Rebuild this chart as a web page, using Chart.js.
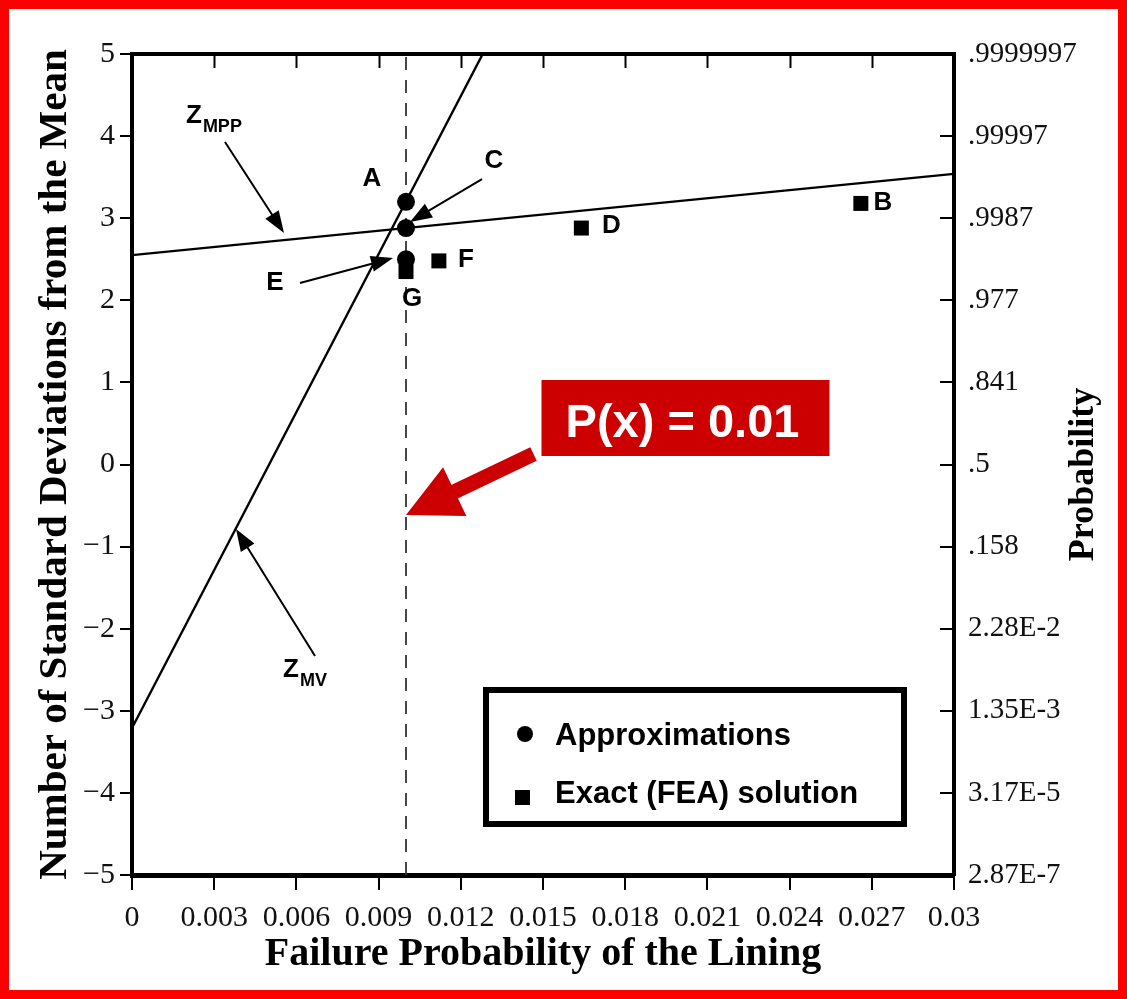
<!DOCTYPE html>
<html>
<head>
<meta charset="utf-8">
<title>Failure Probability of the Lining</title>
<script src="https://cdn.jsdelivr.net/npm/chart.js@4.4.0/dist/chart.umd.min.js"></script>
<style>
  html, body { margin: 0; padding: 0; background: #fff; }
  canvas { display: block; }
</style>
</head>
<body>
<canvas id="chart" width="1127" height="999"></canvas>
<script>
// ---- data ----
const pfRange = [0, 0.03];
const zRange = [-5, 5];
const xTickValues = [0, 0.003, 0.006, 0.009, 0.012, 0.015, 0.018, 0.021, 0.024, 0.027, 0.03];
const xTickLabels = ['0', '0.003', '0.006', '0.009', '0.012', '0.015', '0.018', '0.021', '0.024', '0.027', '0.03'];
const zTickValues = [-5, -4, -3, -2, -1, 0, 1, 2, 3, 4, 5];
const probabilityLabels = ['2.87E-7', '3.17E-5', '1.35E-3', '2.28E-2', '.158', '.5', '.841', '.977', '.9987', '.99997', '.9999997'];

// approximations (circles)
const approxNames = ['A', 'C', 'E'];
const approxPf = [0.01, 0.01, 0.01];
const approxZ = [3.2, 2.88, 2.5];

// exact FEA solutions (squares)
const exactNames = ['G', 'F', 'D', 'B'];
const exactPf = [0.01, 0.0112, 0.0164, 0.0266];
const exactZ = [2.35, 2.48, 2.88, 3.18];

// mean-value and most-probable-point lines
const zmvPf = [0, 0.0128];
const zmvZ = [-3.21, 5];
const zmppPf = [0, 0.03];
const zmppZ = [2.55, 3.54];

// target failure probability
const targetPf = 0.01;

const pts = (xs, ys) => xs.map((x, i) => ({ x: x, y: ys[i] }));

const serif = 'Liberation Serif, "Times New Roman", serif';
const sans = 'Liberation Sans, Arial, sans-serif';

// ---- annotation drawing helpers ----
function arrowLine(ctx, x1, y1, x2, y2, headLen, headHalf, width, color) {
  const dx = x2 - x1, dy = y2 - y1;
  const len = Math.hypot(dx, dy);
  const ux = dx / len, uy = dy / len;
  const bx = x2 - ux * headLen, by = y2 - uy * headLen;
  ctx.save();
  ctx.strokeStyle = color;
  ctx.fillStyle = color;
  ctx.lineWidth = width;
  ctx.lineCap = 'butt';
  ctx.beginPath();
  ctx.moveTo(x1, y1);
  ctx.lineTo(bx + ux * 2, by + uy * 2);
  ctx.stroke();
  ctx.beginPath();
  ctx.moveTo(x2, y2);
  ctx.lineTo(bx - uy * headHalf, by + ux * headHalf);
  ctx.lineTo(bx + uy * headHalf, by - ux * headHalf);
  ctx.closePath();
  ctx.fill();
  ctx.restore();
}

function subscriptLabel(ctx, x, y, main, sub) {
  ctx.save();
  ctx.fillStyle = '#000';
  ctx.textAlign = 'left';
  ctx.textBaseline = 'alphabetic';
  ctx.font = 'bold 26px ' + sans;
  ctx.fillText(main, x, y);
  const w = ctx.measureText(main).width;
  ctx.font = 'bold 18px ' + sans;
  ctx.fillText(sub, x + w + 1, y + 9);
  ctx.restore();
}

const notesPlugin = {
  id: 'notes',
  beforeDraw(chart) {
    const ctx = chart.ctx;
    ctx.save();
    ctx.fillStyle = '#fff';
    ctx.fillRect(0, 0, chart.width, chart.height);
    ctx.restore();
  },
  afterDraw(chart, args, opts) {
    const ctx = chart.ctx;
    const xs = chart.scales.x, ys = chart.scales.y;
    const ca = chart.chartArea;
    const px = v => xs.getPixelForValue(v);
    const py = v => ys.getPixelForValue(v);

    // inward tick marks on the top and right axes
    ctx.save();
    ctx.strokeStyle = '#000';
    ctx.lineWidth = 2;
    chart.scales.x2.ticks.forEach(t => {
      const x = Math.round(chart.scales.x2.getPixelForValue(t.value)) + 0.5;
      if (t.value <= pfRange[0] || t.value >= pfRange[1]) return;
      ctx.beginPath();
      ctx.moveTo(x, ca.top);
      ctx.lineTo(x, ca.top + 14);
      ctx.stroke();
    });
    chart.scales.y2.ticks.forEach(t => {
      const y = Math.round(chart.scales.y2.getPixelForValue(t.value));
      if (t.value <= zRange[0] || t.value >= zRange[1]) return;
      ctx.beginPath();
      ctx.moveTo(ca.right, y);
      ctx.lineTo(ca.right - 14, y);
      ctx.stroke();
    });
    ctx.restore();

    // letters beside the plotted points
    ctx.save();
    ctx.fillStyle = '#000';
    ctx.font = 'bold 26px ' + sans;
    ctx.textAlign = 'center';
    ctx.textBaseline = 'middle';
    chart.data.datasets.forEach((ds, di) => {
      if (!ds.names) return;
      const meta = chart.getDatasetMeta(di);
      ds.names.forEach((name, j) => {
        const off = opts.pointLabelOffsets[name];
        if (!off) return;
        const el = meta.data[j];
        ctx.fillText(name, el.x + off[0], el.y + off[1]);
      });
    });
    ctx.restore();

    // pointer arrows with their labels
    opts.pointers.forEach(p => {
      const tx = px(p.tail[0]), ty = py(p.tail[1]);
      const hx = px(p.tip[0]), hy = py(p.tip[1]);
      arrowLine(ctx, tx, ty, hx, hy, 22, 8, 2, '#000');
      if (p.sub) {
        subscriptLabel(ctx, tx + p.textOffset[0], ty + p.textOffset[1], p.text, p.sub);
      } else {
        ctx.save();
        ctx.fillStyle = '#000';
        ctx.font = 'bold 26px ' + sans;
        ctx.textAlign = 'center';
        ctx.textBaseline = 'middle';
        ctx.fillText(p.text, tx + p.textOffset[0], ty + p.textOffset[1]);
        ctx.restore();
      }
    });

    // red call-out for the target probability
    const co = opts.callout;
    const tipX = px(co.at[0]), tipY = py(co.at[1]);
    const red = '#cc0000';
    arrowLine(ctx, tipX + 127.5, tipY - 61, tipX, tipY, 54, 27, 15, red);
    const bx = tipX + 135.5, by = tipY - 135;
    ctx.save();
    ctx.fillStyle = red;
    ctx.fillRect(bx, by, 288, 76);
    ctx.fillStyle = '#fff';
    ctx.font = 'bold 47px ' + sans;
    ctx.textAlign = 'center';
    ctx.textBaseline = 'alphabetic';
    ctx.fillText(co.text, bx + 141, by + 57);
    ctx.restore();

    // legend box
    const dsA = chart.data.datasets[0], dsE = chart.data.datasets[1];
    const lx = ca.left + 354, ly = ca.top + 636;
    ctx.save();
    ctx.strokeStyle = '#000';
    ctx.lineWidth = 6;
    ctx.strokeRect(lx, ly, 418, 134);
    ctx.fillStyle = '#000';
    ctx.beginPath();
    ctx.arc(lx + 39, ly + 44, 8, 0, Math.PI * 2);
    ctx.fill();
    ctx.fillRect(lx + 29, ly + 100, 15, 15);
    ctx.font = 'bold 31px ' + sans;
    ctx.textAlign = 'left';
    ctx.textBaseline = 'alphabetic';
    ctx.fillText(dsA.label, lx + 69, ly + 55);
    ctx.fillText(dsE.label, lx + 69, ly + 113);
    ctx.restore();

    // right-hand axis title, reading upward
    ctx.save();
    ctx.translate(ca.right + 139, (ca.top + ca.bottom) / 2 + 10);
    ctx.rotate(-Math.PI / 2);
    ctx.fillStyle = '#000';
    ctx.font = 'bold 36px ' + serif;
    ctx.textAlign = 'center';
    ctx.textBaseline = 'alphabetic';
    ctx.fillText('Probability', 0, 0);
    ctx.restore();

    // red frame around the figure
    ctx.save();
    ctx.fillStyle = '#ff0000';
    const W = chart.width, H = chart.height, b = 9;
    ctx.fillRect(0, 0, W, b);
    ctx.fillRect(0, H - b, W, b);
    ctx.fillRect(0, 0, b, H);
    ctx.fillRect(W - b, 0, b, H);
    ctx.restore();
  }
};

const setXTicks = s => { s.ticks = xTickValues.map(v => ({ value: v })); };
const setZTicks = s => { s.ticks = zTickValues.map(v => ({ value: v })); };

new Chart(document.getElementById('chart'), {
  type: 'scatter',
  data: {
    datasets: [
      {
        label: 'Approximations',
        names: approxNames,
        data: pts(approxPf, approxZ),
        pointStyle: 'circle',
        pointRadius: 9,
        pointBackgroundColor: '#000',
        pointBorderColor: '#000',
        pointBorderWidth: 0,
        showLine: false
      },
      {
        label: 'Exact (FEA) solution',
        names: exactNames,
        data: pts(exactPf, exactZ),
        pointStyle: 'rect',
        pointRadius: 10.6,
        pointBackgroundColor: '#000',
        pointBorderColor: '#000',
        pointBorderWidth: 0,
        showLine: false
      },
      {
        label: 'Z_MV',
        data: pts(zmvPf, zmvZ),
        showLine: true,
        borderColor: '#000',
        borderWidth: 2.4,
        pointRadius: 0
      },
      {
        label: 'Z_MPP',
        data: pts(zmppPf, zmppZ),
        showLine: true,
        borderColor: '#000',
        borderWidth: 2.4,
        pointRadius: 0
      },
      {
        label: 'P(x) target',
        data: pts([targetPf, targetPf], zRange),
        showLine: true,
        borderColor: '#333',
        borderWidth: 1.8,
        borderDash: [13, 10],
        pointRadius: 0
      }
    ]
  },
  options: {
    responsive: false,
    animation: false,
    devicePixelRatio: 1,
    layout: { padding: 0 },
    events: [],
    plugins: {
      legend: { display: false },
      tooltip: { enabled: false },
      notes: {
        pointLabelOffsets: {
          A: [-34, -23],
          G: [6, 27],
          F: [27, -1],
          D: [30, -2],
          B: [22, -1]
        },
        pointers: [
          { text: 'Z', sub: 'MPP', tail: [0.003394, 3.928], tip: [0.005547, 2.82], textOffset: [-39, -19] },
          { text: 'Z', sub: 'MV', tail: [0.006679, -2.333], tip: [0.003796, -0.786], textOffset: [-32, 21] },
          { text: 'C', tail: [0.012774, 3.477], tip: [0.010146, 2.954], textOffset: [12, -18] },
          { text: 'E', tail: [0.006131, 2.211], tip: [0.009526, 2.515], textOffset: [-25, 0] }
        ],
        callout: { at: [targetPf, -0.615], text: 'P(x) = ' + targetPf }
      }
    },
    scales: {
      x: {
        type: 'linear',
        position: 'bottom',
        min: pfRange[0],
        max: pfRange[1],
        afterBuildTicks: setXTicks,
        afterFit: s => { s.height = 124; },
        ticks: {
          callback: (v, i) => xTickLabels[i],
          font: { family: serif, size: 30 },
          color: '#111',
          padding: 10,
          maxRotation: 0,
          autoSkip: false
        },
        grid: { display: true, drawOnChartArea: false, drawTicks: true, tickLength: 15, color: '#000', lineWidth: 2 },
        border: { display: true, color: '#000', width: 5 },
        title: {
          display: true,
          text: 'Failure Probability of the Lining',
          font: { family: serif, size: 40, weight: 'bold' },
          color: '#000',
          padding: { top: 0, bottom: 20 }
        }
      },
      x2: {
        type: 'linear',
        position: 'top',
        min: pfRange[0],
        max: pfRange[1],
        afterBuildTicks: setXTicks,
        afterFit: s => { s.height = 54; },
        ticks: { display: false },
        grid: { display: false, drawTicks: false },
        border: { display: true, color: '#000', width: 4 }
      },
      y: {
        type: 'linear',
        position: 'left',
        min: zRange[0],
        max: zRange[1],
        afterBuildTicks: setZTicks,
        afterFit: s => { s.width = 132; },
        ticks: {
          callback: v => (v < 0 ? '\u2212' + Math.abs(v) : String(v)),
          font: { family: serif, size: 30 },
          color: '#111',
          padding: 5,
          autoSkip: false
        },
        grid: { display: true, drawOnChartArea: false, drawTicks: true, tickLength: 12, color: '#000', lineWidth: 2 },
        border: { display: true, color: '#000', width: 4 },
        title: {
          display: true,
          text: 'Number of Standard Deviations from the Mean',
          font: { family: serif, size: 41, weight: 'bold' },
          color: '#000',
          padding: { top: 31, bottom: 0 }
        }
      },
      y2: {
        type: 'linear',
        position: 'right',
        min: zRange[0],
        max: zRange[1],
        afterBuildTicks: setZTicks,
        afterFit: s => { s.width = 173; },
        ticks: {
          callback: (v, i) => probabilityLabels[i],
          font: { family: serif, size: 29 },
          color: '#111',
          padding: 14,
          autoSkip: false
        },
        grid: { display: false, drawTicks: false },
        border: { display: true, color: '#000', width: 4 }
      }
    }
  },
  plugins: [notesPlugin]
});
</script>
</body>
</html>
